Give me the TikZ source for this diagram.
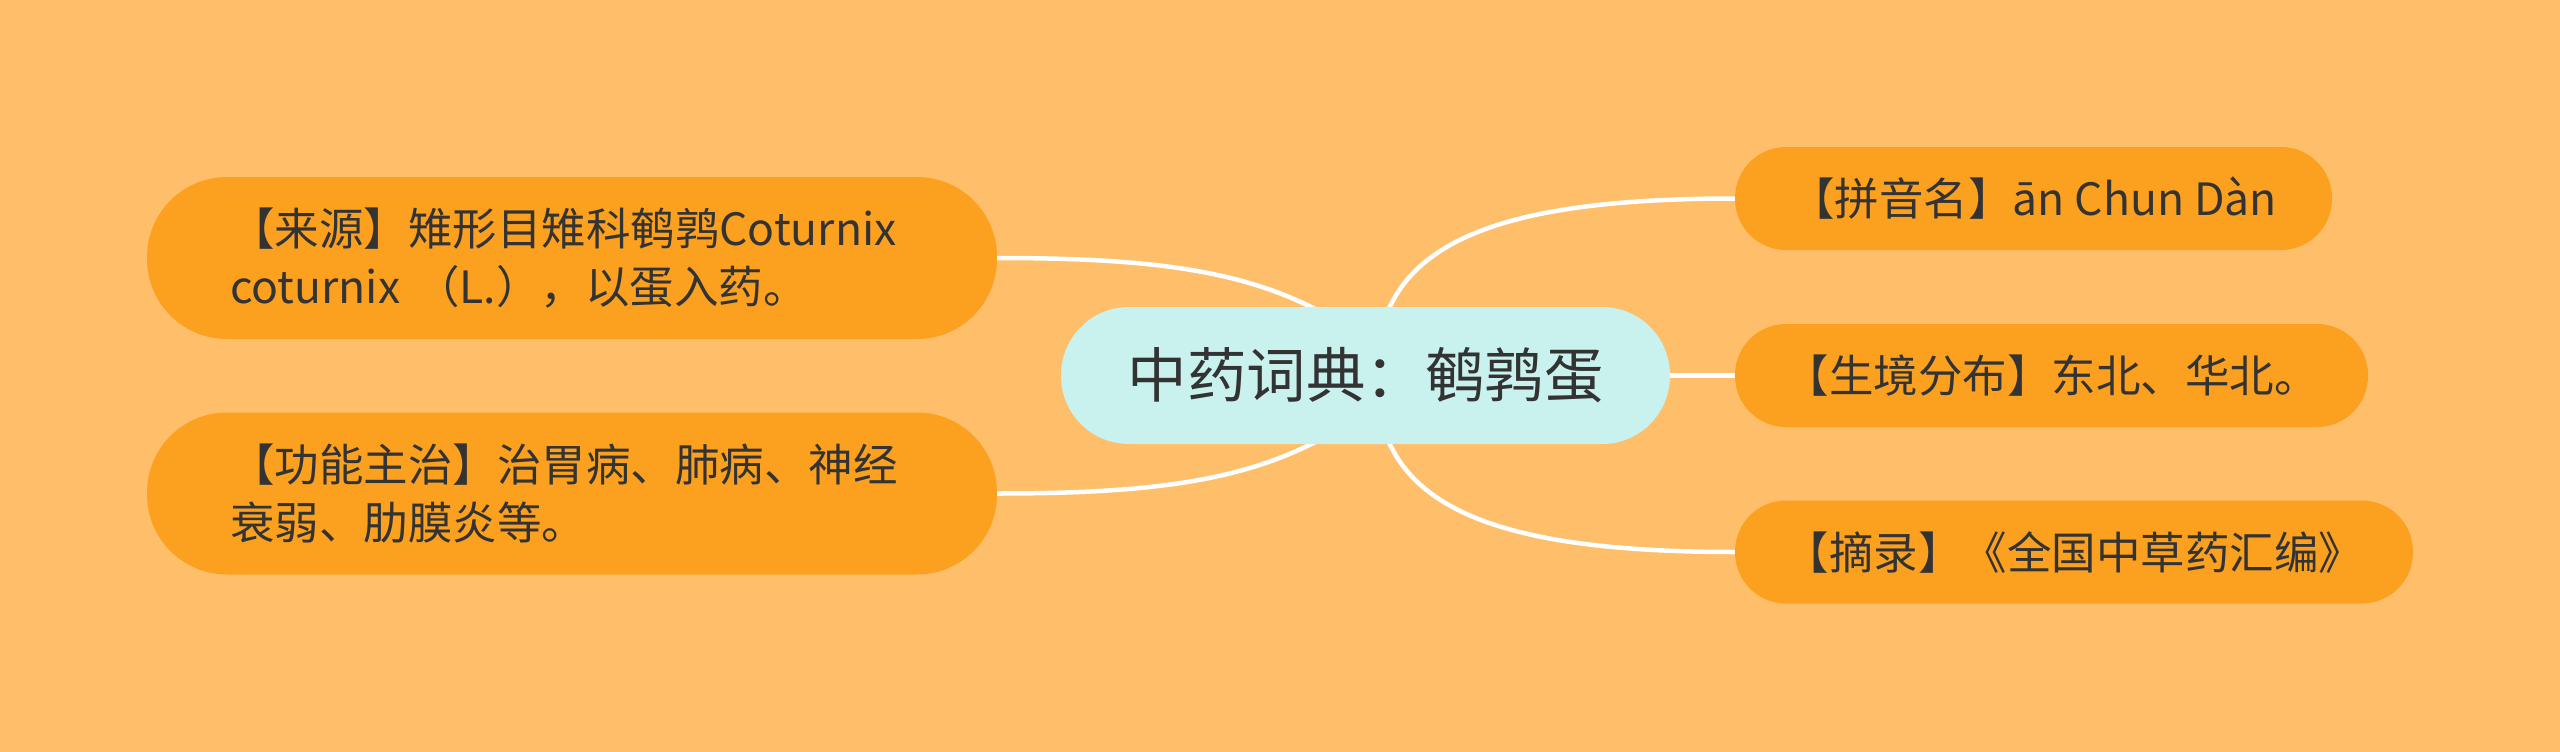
\documentclass[tikz,border=0pt]{standalone}
\usepackage{fontspec}
\setmainfont{Noto Sans CJK SC}
\definecolor{bgc}{HTML}{FEBE6A}
\definecolor{leaf}{HTML}{FCA11F}
\definecolor{rootc}{HTML}{C9F2EF}
\definecolor{txt}{HTML}{333333}
\pgfdeclarelayer{bg}
\pgfdeclarelayer{links}
\pgfsetlayers{bg,links,main}
\begin{document}
\begin{tikzpicture}[x=1pt,y=-1pt,
  leftbox/.style={fill=leaf, text=txt, inner sep=0pt, minimum width=850pt, minimum height=162pt,
    rounded corners=80pt, text width=684pt, align=left, font={\fontsize{44.5}{58}\selectfont}},
  rootbox/.style={fill=rootc, text=txt, inner sep=0pt, minimum width=609pt, minimum height=137pt,
    rounded corners=68pt, font={\fontsize{59.5}{70}\selectfont}},
  rightbox/.style={fill=leaf, text=txt, inner sep=0pt, minimum height=103pt,
    rounded corners=51pt, font={\fontsize{44.5}{58}\selectfont}},
  link/.style={draw=white, line width=4.5pt}]
\begin{pgfonlayer}{bg}
\fill[bgc] (0,0) rectangle (2560,752);
\end{pgfonlayer}
\useasboundingbox (0,0) rectangle (2560,752);

\node[leftbox] (src) at (572,258) {【来源】雉形目雉科鹌鹑Coturnix\\coturnix （L.），以蛋入药。};
\node[leftbox] (func) at (572,493.5) {【功能主治】治胃病、肺病、神经\\衰弱、肋膜炎等。};
\node[rootbox] (root) at (1365.5,375.5) {中药词典：鹌鹑蛋};
\node[rightbox, minimum width=597pt] (pin) at (2033.5,198.5) {【拼音名】ān Chun Dàn};
\node[rightbox, minimum width=633pt] (env) at (2051.5,375.5) {【生境分布】东北、华北。};
\node[rightbox, minimum width=678pt] (ref) at (2074,552) {【摘录】《全国中草药汇编》};

\coordinate (hubR) at (1376,375.5);
\coordinate (hubLU) at (1372,345);
\coordinate (hubLD) at (1372,406);

\begin{pgfonlayer}{links}
\draw[link] (src.east) .. controls +(183,0) and +(-92,-70) .. (hubLU);
\draw[link] (func.east) .. controls +(183,0) and +(-92,70) .. (hubLD);
\draw[link] (hubR) .. controls +(0,-125.5) and +(-255,0) .. (pin.west);
\draw[link] (root.east) -- (env.west);
\draw[link] (hubR) .. controls +(0,125.5) and +(-255,0) .. (ref.west);
\end{pgfonlayer}
\end{tikzpicture}
\end{document}
